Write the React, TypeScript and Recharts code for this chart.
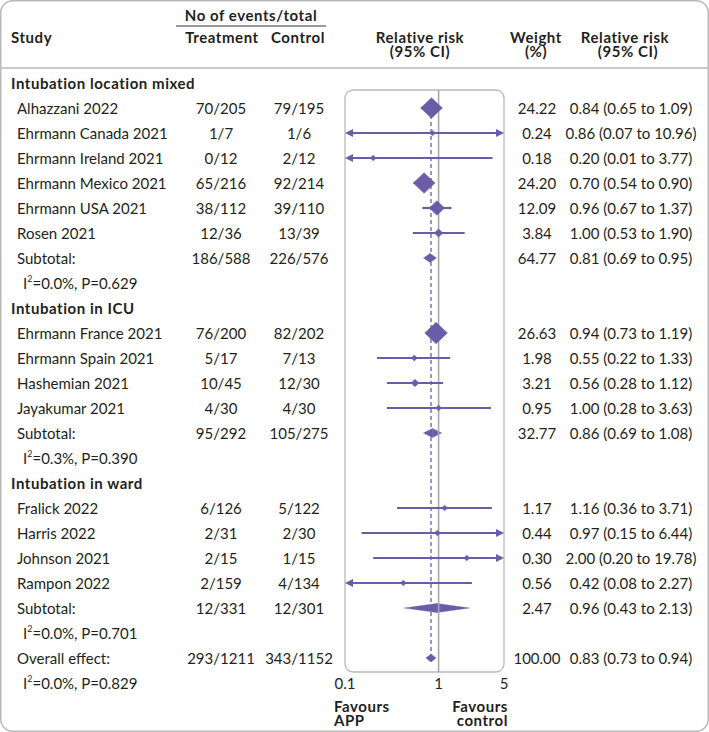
import React from 'react';
import { ComposedChart, Scatter, XAxis, YAxis, ReferenceLine, ReferenceArea } from 'recharts';

const rowLabels = [
  'Intubation location mixed',
  'Alhazzani 2022',
  'Ehrmann Canada 2021',
  'Ehrmann Ireland 2021',
  'Ehrmann Mexico 2021',
  'Ehrmann USA 2021',
  'Rosen 2021',
  'Subtotal:',
  'I²=0.0%, P=0.629',
  'Intubation in ICU',
  'Ehrmann France 2021',
  'Ehrmann Spain 2021',
  'Hashemian 2021',
  'Jayakumar 2021',
  'Subtotal:',
  'I²=0.3%, P=0.390',
  'Intubation in ward',
  'Fralick 2022',
  'Harris 2022',
  'Johnson 2021',
  'Rampon 2022',
  'Subtotal:',
  'I²=0.0%, P=0.701',
  'Overall effect:',
  'I²=0.0%, P=0.829',
];

const rowKinds = [
  'group', 'study', 'study', 'study', 'study', 'study', 'study', 'subtotal', 'het',
  'group', 'study', 'study', 'study', 'study', 'subtotal', 'het',
  'group', 'study', 'study', 'study', 'study', 'subtotal', 'het',
  'overall', 'het',
];

const treatmentCounts = [
  '', '70/205', '1/7', '0/12', '65/216', '38/112', '12/36', '186/588', '',
  '', '76/200', '5/17', '10/45', '4/30', '95/292', '',
  '', '6/126', '2/31', '2/15', '2/159', '12/331', '',
  '293/1211', '',
];

const controlCounts = [
  '', '79/195', '1/6', '2/12', '92/214', '39/110', '13/39', '226/576', '',
  '', '82/202', '7/13', '12/30', '4/30', '105/275', '',
  '', '5/122', '2/30', '1/15', '4/134', '12/301', '',
  '343/1152', '',
];

const weights: (number | null)[] = [
  null, 24.22, 0.24, 0.18, 24.2, 12.09, 3.84, 64.77, null,
  null, 26.63, 1.98, 3.21, 0.95, 32.77, null,
  null, 1.17, 0.44, 0.3, 0.56, 2.47, null,
  100.0, null,
];

const relRisk: (number | null)[] = [
  null, 0.84, 0.86, 0.2, 0.7, 0.96, 1.0, 0.81, null,
  null, 0.94, 0.55, 0.56, 1.0, 0.86, null,
  null, 1.16, 0.97, 2.0, 0.42, 0.96, null,
  0.83, null,
];

const ciLow: (number | null)[] = [
  null, 0.65, 0.07, 0.01, 0.54, 0.67, 0.53, 0.69, null,
  null, 0.73, 0.22, 0.28, 0.28, 0.69, null,
  null, 0.36, 0.15, 0.2, 0.08, 0.43, null,
  0.73, null,
];

const ciHigh: (number | null)[] = [
  null, 1.09, 10.96, 3.77, 0.9, 1.37, 1.9, 0.95, null,
  null, 1.19, 1.33, 1.12, 3.63, 1.08, null,
  null, 3.71, 6.44, 19.78, 2.27, 2.13, null,
  0.94, null,
];

const xTicks = [0.1, 1, 5];
const xDomain: [number, number] = [0.1, 5];
const overallIndex = 23;

const FONT = 'Lato, "Open Sans", "DejaVu Sans", sans-serif';
const PURPLE = '#6b5ca8';
const TEXT = '#231f20';
const FRAME = '#b9b9b9';
const FS = 15;
const BOLD_LS = 0.55;

const rowIdx = rowLabels.map((_, i) => i);
const yDomain: [number, number] = [-3.32, 25];

const studyData = rowIdx
  .filter((i) => rowKinds[i] === 'study')
  .map((i) => ({ x: relRisk[i] as number, y: i, w: weights[i] as number }));

const clamp = (v: number) => Math.min(xDomain[1], Math.max(xDomain[0], v));

const fmt2 = (v: number) => v.toFixed(2);

function HetText({ x, y, label }: { x: number; y: number; label: string }) {
  const [a, b] = label.split('²');
  return (
    <text x={x} y={y} dominantBaseline="central" fontSize={FS} fill={TEXT} fontFamily={FONT}>
      {a}
      <tspan dy={-5} fontSize={9}>2</tspan>
      <tspan dy={5}>{b}</tspan>
    </text>
  );
}

function LeftTick(props: any) {
  const { y, payload } = props;
  const i = payload.value as number;
  const kind = rowKinds[i];
  const label = rowLabels[i];
  const els: React.ReactNode[] = [];
  if (kind === 'group') {
    els.push(
      <text key="l" x={11} y={y} dominantBaseline="central" fontSize={FS} fontWeight={700} letterSpacing={BOLD_LS} fill={TEXT} fontFamily={FONT}>
        {label}
      </text>
    );
  } else if (kind === 'het') {
    els.push(<HetText key="l" x={23} y={y} label={label} />);
  } else {
    els.push(
      <text key="l" x={17} y={y} dominantBaseline="central" fontSize={FS} fill={TEXT} fontFamily={FONT}>
        {label}
      </text>
    );
  }
  if (treatmentCounts[i]) {
    els.push(
      <text key="t" x={221} y={y} textAnchor="middle" dominantBaseline="central" fontSize={FS} fill={TEXT} fontFamily={FONT}>
        {treatmentCounts[i]}
      </text>
    );
  }
  if (controlCounts[i]) {
    els.push(
      <text key="c" x={299} y={y} textAnchor="middle" dominantBaseline="central" fontSize={FS} fill={TEXT} fontFamily={FONT}>
        {controlCounts[i]}
      </text>
    );
  }
  return <g>{els}</g>;
}

function RightTick(props: any) {
  const { y, payload } = props;
  const i = payload.value as number;
  const w = weights[i];
  const r = relRisk[i];
  if (w == null || r == null) return <g />;
  return (
    <g>
      <text x={537} y={y} textAnchor="middle" dominantBaseline="central" fontSize={FS} fill={TEXT} fontFamily={FONT}>
        {fmt2(w)}
      </text>
      <text x={631} y={y} textAnchor="middle" dominantBaseline="central" fontSize={FS} fill={TEXT} fontFamily={FONT}>
        {`${fmt2(r)} (${fmt2(ciLow[i] as number)} to ${fmt2(ciHigh[i] as number)})`}
      </text>
    </g>
  );
}

function XTick(props: any) {
  const { x, payload } = props;
  const v = payload.value as number;
  const ty = 683;
  return (
    <g>
      <text x={x} y={ty} textAnchor="middle" dominantBaseline="central" fontSize={FS} fill={TEXT} fontFamily={FONT}>
        {String(v)}
      </text>
      {v === xDomain[0] && (
        <text x={x - 11} y={706} dominantBaseline="central" fontSize={FS} fontWeight={700} letterSpacing={BOLD_LS} fill={TEXT} fontFamily={FONT}>
          Favours
          <tspan x={x - 11} dy={14}>APP</tspan>
        </text>
      )}
      {v === xDomain[1] && (
        <text x={x + 4} y={706} textAnchor="end" dominantBaseline="central" fontSize={FS} fontWeight={700} letterSpacing={BOLD_LS} fill={TEXT} fontFamily={FONT}>
          Favours
          <tspan x={x + 4} dy={14}>control</tspan>
        </text>
      )}
    </g>
  );
}

function Diamond(props: any) {
  const { cx, cy, payload } = props;
  const s = Math.max(6, 4.4 * Math.sqrt(payload.w));
  const hw = s / 2;
  const hh = (s / 2) * 0.95;
  return (
    <polygon
      points={`${cx - hw},${cy} ${cx},${cy - hh} ${cx + hw},${cy} ${cx},${cy + hh}`}
      fill={PURPLE}
      stroke={PURPLE}
      strokeWidth={0.5}
    />
  );
}

function makeCIShape(arrowL: boolean, arrowR: boolean) {
  return (p: any) => {
    const { x1, y1, x2 } = p;
    const al = 8;
    const ah = 4;
    const lx = arrowL ? x1 + al - 1 : x1;
    const rx = arrowR ? x2 - al + 1 : x2;
    return (
      <g>
        <line x1={lx} y1={y1} x2={rx} y2={y1} stroke={PURPLE} strokeWidth={2.2} />
        {arrowL && (
          <polygon points={`${x1},${y1} ${x1 + al},${y1 - ah} ${x1 + al},${y1 + ah}`} fill={PURPLE} />
        )}
        {arrowR && (
          <polygon points={`${x2},${y1} ${x2 - al},${y1 - ah} ${x2 - al},${y1 + ah}`} fill={PURPLE} />
        )}
      </g>
    );
  };
}

function LeftHalf(p: any) {
  const { x, y, width, height } = p;
  return (
    <polygon
      points={`${x},${y + height / 2} ${x + width},${y} ${x + width},${y + height}`}
      fill={PURPLE}
      stroke={PURPLE}
      strokeWidth={0.4}
    />
  );
}

function RightHalf(p: any) {
  const { x, y, width, height } = p;
  return (
    <polygon
      points={`${x},${y} ${x + width},${y + height / 2} ${x},${y + height}`}
      fill={PURPLE}
      stroke={PURPLE}
      strokeWidth={0.4}
    />
  );
}

function BoxShape(p: any) {
  const { x, y, width, height } = p;
  return <rect x={x} y={y} width={width} height={height} rx={8} ry={8} fill="none" stroke={FRAME} strokeWidth={1.3} />;
}

function Header() {
  const bold = { fontSize: FS, fontWeight: 700, fill: TEXT, fontFamily: FONT, letterSpacing: BOLD_LS } as const;
  return (
    <g>
      <rect x={0.75} y={0.75} width={707.5} height={730.5} rx={12} ry={12} fill="none" stroke={FRAME} strokeWidth={1.5} />
      <text x={11} y={37} dominantBaseline="central" {...bold}>Study</text>
      <text x={251} y={15} textAnchor="middle" dominantBaseline="central" {...bold}>No of events/total</text>
      <line x1={176} x2={326} y1={26} y2={26} stroke="#333" strokeWidth={1} />
      <text x={222} y={37} textAnchor="middle" dominantBaseline="central" {...bold}>Treatment</text>
      <text x={298} y={37} textAnchor="middle" dominantBaseline="central" {...bold}>Control</text>
      <text x={420} y={37} textAnchor="middle" dominantBaseline="central" {...bold}>Relative risk</text>
      <text x={420} y={51} textAnchor="middle" dominantBaseline="central" {...bold}>(95% CI)</text>
      <text x={536} y={37} textAnchor="middle" dominantBaseline="central" {...bold}>Weight</text>
      <text x={536} y={51} textAnchor="middle" dominantBaseline="central" {...bold}>(%)</text>
      <text x={625} y={37} textAnchor="middle" dominantBaseline="central" {...bold}>Relative risk</text>
      <text x={628} y={51} textAnchor="middle" dominantBaseline="central" {...bold}>(95% CI)</text>
      <line x1={1} x2={708} y1={68} y2={68} stroke={FRAME} strokeWidth={1.3} />
    </g>
  );
}

export default function App() {
  const studyRows = rowIdx.filter((i) => rowKinds[i] === 'study');
  const pooledRows = rowIdx.filter((i) => rowKinds[i] === 'subtotal' || rowKinds[i] === 'overall');
  return (
    <div style={{ position: 'absolute', left: 0, top: 0, width: 709, height: 732, background: '#fff' }}>
      <ComposedChart width={709} height={732} margin={{ top: 0, right: 0, bottom: 0, left: 0 }} data={studyData}>
        <XAxis
          type="number"
          dataKey="x"
          scale="log"
          domain={xDomain}
          allowDataOverflow
          ticks={xTicks}
          interval={0}
          axisLine={false}
          tickLine={false}
          height={24}
          tick={<XTick />}
        />
        <YAxis
          type="number"
          dataKey="y"
          domain={yDomain}
          reversed
          allowDataOverflow
          ticks={rowIdx}
          interval={0}
          width={345}
          axisLine={false}
          tickLine={false}
          tick={<LeftTick />}
        />
        <YAxis
          yAxisId="right"
          orientation="right"
          type="number"
          domain={yDomain}
          reversed
          allowDataOverflow
          ticks={rowIdx}
          interval={0}
          width={205}
          axisLine={false}
          tickLine={false}
          tick={<RightTick />}
        />
        <ReferenceArea x1={xDomain[0]} x2={xDomain[1]} y1={0.28} y2={23.56} shape={BoxShape} ifOverflow="visible" />
        <ReferenceLine
          segment={[{ x: 1, y: 0.28 }, { x: 1, y: 23.56 }]}
          stroke="#a8a8a8"
          strokeWidth={1.6}
          ifOverflow="visible"
        />
        <ReferenceLine
          segment={[{ x: relRisk[overallIndex] as number, y: 1 }, { x: relRisk[overallIndex] as number, y: overallIndex }]}
          stroke={PURPLE}
          strokeWidth={1.3}
          strokeDasharray="4 3"
          ifOverflow="visible"
        />
        {studyRows.map((i) => {
          const lo = ciLow[i] as number;
          const hi = ciHigh[i] as number;
          return (
            <ReferenceLine
              key={`ci-${i}`}
              segment={[{ x: clamp(lo), y: i }, { x: clamp(hi), y: i }]}
              ifOverflow="visible"
              shape={makeCIShape(lo < xDomain[0], hi > xDomain[1])}
            />
          );
        })}
        {pooledRows.map((i) => {
          const h = rowKinds[i] === 'overall' ? 0.16 : 0.18;
          return (
            <ReferenceArea
              key={`pl-${i}`}
              x1={ciLow[i] as number}
              x2={relRisk[i] as number}
              y1={i - h}
              y2={i + h}
              shape={LeftHalf}
              ifOverflow="visible"
            />
          );
        })}
        {pooledRows.map((i) => {
          const h = rowKinds[i] === 'overall' ? 0.16 : 0.18;
          return (
            <ReferenceArea
              key={`pr-${i}`}
              x1={relRisk[i] as number}
              x2={ciHigh[i] as number}
              y1={i - h}
              y2={i + h}
              shape={RightHalf}
              ifOverflow="visible"
            />
          );
        })}
        <Scatter data={studyData} dataKey="y" shape={<Diamond />} isAnimationActive={false} />
        <Header />
      </ComposedChart>
    </div>
  );
}
